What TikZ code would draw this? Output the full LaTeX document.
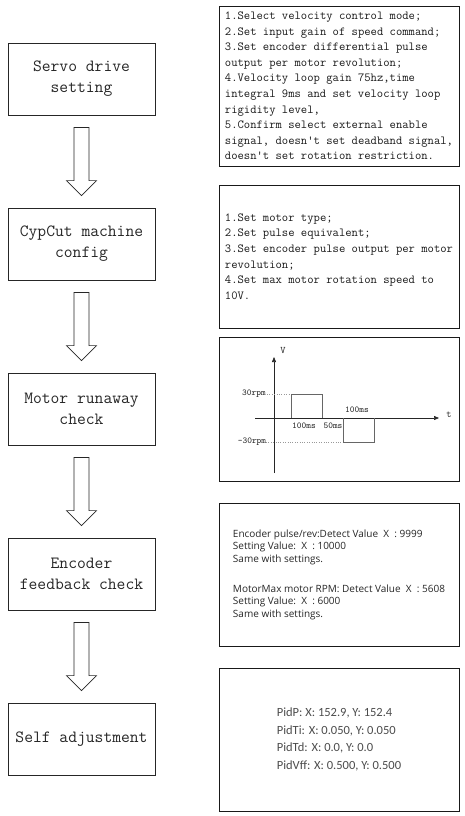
\documentclass[tikz,border=0pt]{standalone}
\usepackage{fontspec}
\newfontfamily\notefont{Open Sans}
\newfontfamily\pidfont{Carlito}
\usetikzlibrary{calc,arrows.meta}

\tikzset{
  stepbox/.style={draw=black!85, line width=0.8pt, minimum width=147, minimum height=72,
    inner sep=0pt, align=center, text=black!85, font=\ttfamily\fontsize{17.1}{21}\selectfont},
  notebox/.style={draw=black!90, line width=0.8pt, minimum width=240, inner sep=0pt,
    align=left, text=black!90, font=\ttfamily\fontsize{12.3}{15.6}\selectfont},
  hollowarrow/.style={draw=black!85, line width=0.7pt, fill=white, line join=miter},
  chartlbl/.style={inner sep=0pt, text=black!85, font=\ttfamily\fontsize{9}{10}\selectfont}
}

% block arrow between two step boxes
\newcommand{\flowarrow}[2]{%
  \draw[hollowarrow] ($(#1.south)+(-7.5,12)$) -- ($(#1.south)+(7.5,12)$)
    -- ($(#2.north)+(7.5,-27)$) -- ($(#2.north)+(15,-27)$)
    -- ($(#2.north)+(0,-12)$)
    -- ($(#2.north)+(-15,-27)$) -- ($(#2.north)+(-7.5,-27)$) -- cycle;}

\begin{document}
\begin{tikzpicture}[x=1pt, y=-1pt]
\useasboundingbox (0,0) rectangle (464,816);

% Steps on the left
\node[stepbox] (servo)   at (81.5,79)  {Servo drive\\setting};
\node[stepbox] (cypcut)  at (81.5,244) {CypCut machine\\config};
\node[stepbox] (runaway) at (81.5,409) {Motor runaway\\check};
\node[stepbox] (encoder) at (81.5,574) {Encoder\\feedback check};
\node[stepbox] (selfadj) at (81.5,739) {Self adjustment};

% Arrows between steps
\flowarrow{servo}{cypcut}
\flowarrow{cypcut}{runaway}
\flowarrow{runaway}{encoder}
\flowarrow{encoder}{selfadj}

% Notes on the right
\node[notebox, minimum height=160] (servonote) at (339,86) {%
1.Select velocity control mode;\\
2.Set input gain of speed command;\\
3.Set encoder differential pulse\\
output per motor revolution;\\
4.Velocity loop gain 75hz,time\\
integral 9ms and set velocity loop\\
rigidity level,\\
5.Confirm select external enable\\
signal, doesn't set deadband signal,\\
doesn't set rotation restriction.};

\node[notebox, minimum height=143] (cypnote) at (339,256.5) {%
1.Set motor type;\\
2.Set pulse equivalent;\\
3.Set encoder pulse output per motor\\
revolution;\\
4.Set max motor rotation speed to\\
10V.};

\node[notebox, minimum height=144] (chartbox) at (339,409) {};

\node[notebox, minimum height=143, font=\notefont\fontsize{10}{12.5}\selectfont,
  text=black!85] (encnote) at (339,574.5) {%
Encoder pulse/rev:Detect Value\ \ X\ \ : 9999\\
Setting Value:\ \ X\ \ : 10000\\
Same with settings.\\[17.5pt]
MotorMax motor RPM: Detect Value\ \ X\ \ : 5608\\
Setting Value:\ \ X\ \ : 6000\\
Same with settings.};

\node[notebox, minimum height=143, font=\pidfont\fontsize{12.5}{17.5}\selectfont,
  text=black!70] (pidnote) at (339,739.5) {%
PidP: X: 152.9, Y: 152.4\\
PidTi: X: 0.050, Y: 0.050\\
PidTd: X: 0.0, Y: 0.0\\
PidVff: X: 0.500, Y: 0.500};

% Speed chart
\draw[black!85, line width=0.6pt, -{Triangle[length=5pt, width=4pt]}] (274,473) -- (274,357);
\draw[black!85, line width=0.6pt, -{Triangle[length=5pt, width=4pt]}] (255,418) -- (439,418);
\node[chartlbl, font=\ttfamily\fontsize{10}{12}\selectfont] (vlbl) at (283,350) {V};
\node[chartlbl, font=\ttfamily\fontsize{10}{12}\selectfont] (tlbl) at (449,415) {t};
\draw[black!40, dotted] (267,394) -- (291,394);
\draw[black!40, dotted] (266,442) -- (343,442);
\draw[black!60, line width=0.6pt] (291,418) -- (291,394) -- (322,394) -- (322,418);
\draw[black!60, line width=0.6pt] (343,418) -- (343,442) -- (374,442) -- (374,418);
\node[chartlbl] (uplbl)   at (254,394) {30rpm};
\node[chartlbl] (downlbl) at (252,442) {-30rpm};
\node[chartlbl] (ton)     at (304,426) {100ms};
\node[chartlbl] (tgap)    at (333,426) {50ms};
\node[chartlbl] (toff)    at (357,410) {100ms};
\end{tikzpicture}
\end{document}
